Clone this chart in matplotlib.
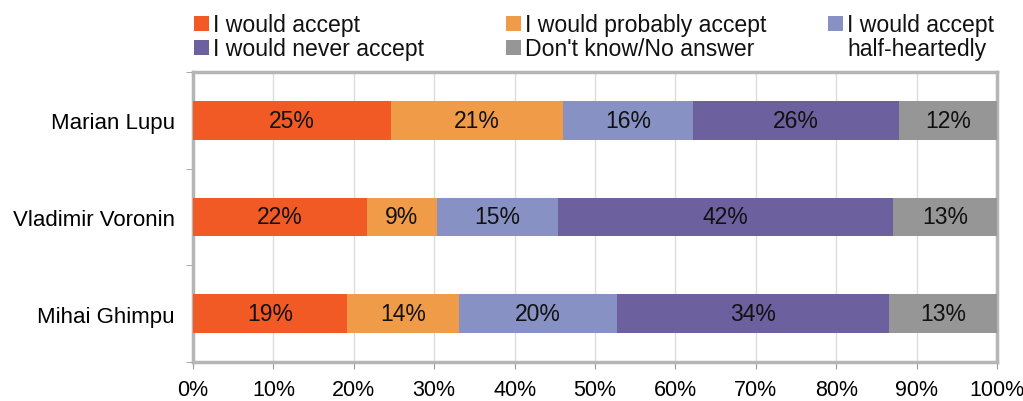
import matplotlib
matplotlib.use("Agg")
import matplotlib.pyplot as plt
from matplotlib.patches import Rectangle
import numpy as np

plt.rcParams['font.family'] = ['Liberation Sans', 'DejaVu Sans']

candidates = ["Marian Lupu", "Vladimir Voronin", "Mihai Ghimpu"]
series_names = ["I would accept", "I would probably accept", "I would accept\nhalf-heartedly",
                "I would never accept", "Don't know/No answer"]
accept = [24.6, 21.6, 19.2]
probably = [21.4, 8.7, 13.9]
half = [16.2, 15.1, 19.6]
never = [25.6, 41.7, 33.9]
dontknow = [12.2, 12.9, 13.4]
colors = ["#F15A24", "#F09B48", "#8891C3", "#6C619E", "#959695"]
xticks = [0, 10, 20, 30, 40, 50, 60, 70, 80, 90, 100]

series = [accept, probably, half, never, dontknow]

W, H = 1023, 402
fig = plt.figure(figsize=(W / 100, H / 100), dpi=100)
ax = fig.add_axes([193 / W, 1 - 363 / H, (997 - 193) / W, (363 - 73) / H])

y = np.arange(len(candidates))
left = np.zeros(len(candidates))
for vals, col in zip(series, colors):
    vals = np.array(vals)
    ax.barh(y, vals, left=left, height=0.4, color=col, zorder=3)
    for yi, l, v in zip(y, left, vals):
        ax.text(l + v / 2, yi, f"{v:.0f}%", ha="center", va="center", fontsize=16.5,
                color="#111111", zorder=4)
    left += vals

ax.set_xlim(0, 100)
ax.set_ylim(2.5, -0.5)
ax.set_xticks(xticks)
ax.set_xticklabels([f"{t}%" for t in xticks], fontsize=15.5)
ax.set_yticks(y)
ax.set_yticklabels(candidates, fontsize=16)
ax.tick_params(axis="y", length=0, pad=13)
ax.set_yticks([-0.5, 0.5, 1.5, 2.5], minor=True)
ax.tick_params(axis="y", which="minor", length=5, color="#999999", direction="out")
ax.tick_params(axis="x", length=5, color="#999999", pad=7)
ax.grid(axis="x", color="#DCDCDC", linewidth=1, zorder=0)
for s in ax.spines.values():
    s.set_color("#B5B5B5")
    s.set_linewidth(2.5)

# legend drawn manually (pixel positions from the reference)
leg_items = [
    (194, 32, 0, ["I would accept"]),
    (194, 56, 3, ["I would never accept"]),
    (506, 32, 1, ["I would probably accept"]),
    (506, 56, 4, ["Don't know/No answer"]),
    (828, 32, 2, ["I would accept", "half-heartedly"]),
]
for px, pbase, idx, lines in leg_items:
    fig.patches.append(Rectangle((px / W, 1 - pbase / H), 15 / W, 15 / H,
                                 transform=fig.transFigure,
                                 facecolor=colors[idx], edgecolor="none"))
    for k, line in enumerate(lines):
        fig.text((px + 19) / W, 1 - (pbase + 24 * k) / H, line, ha="left", va="baseline",
                 fontsize=16.6, color="#111111")

fig.savefig("out.png", dpi=100)
